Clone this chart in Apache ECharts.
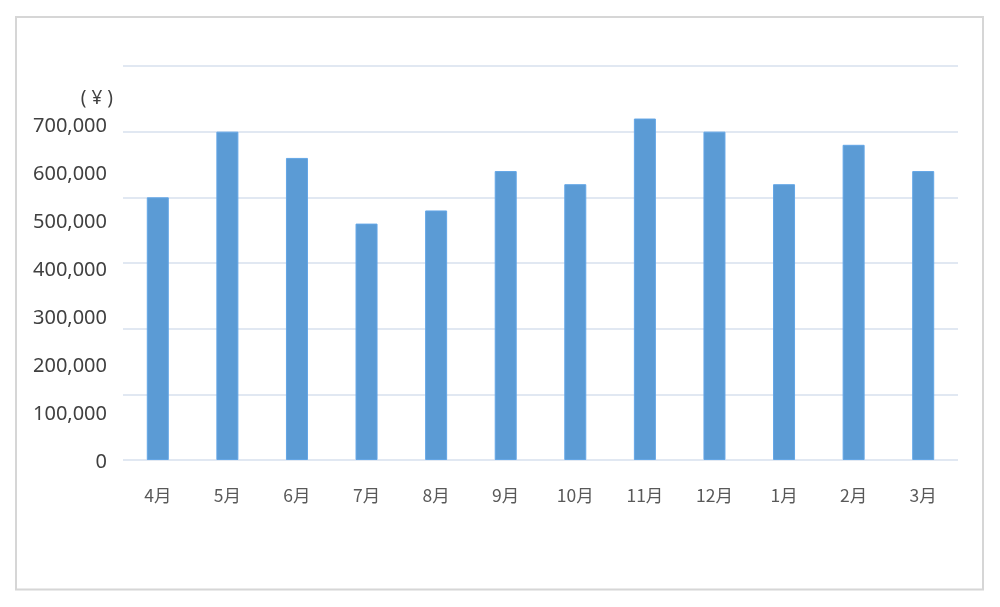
<!DOCTYPE html>
<html>
<head>
<meta charset="utf-8">
<script src="https://cdn.jsdelivr.net/npm/echarts@6/dist/echarts.min.js"></script>
<style>
html,body{margin:0;padding:0;background:#fff;}
#chart{width:1000px;height:607px;}
</style>
</head>
<body>
<div id="chart"></div>
<script>
// Data
var months = ['4月','5月','6月','7月','8月','9月','10月','11月','12月','1月','2月','3月'];
var sales = [400000, 500000, 460000, 360000, 380000, 440000, 420000, 520000, 500000, 420000, 480000, 440000];
// Tick labels as shown (manually placed labels in the reference)
var tickLabels = ['0','100,000','200,000','300,000','400,000','500,000','600,000','700,000'];
var unitLabel = '( ¥ )';

var chart = echarts.init(document.getElementById('chart'), null, {renderer:'canvas'});
var option = {
  backgroundColor: '#ffffff',
  animation: false,
  graphic: [{
    type: 'rect',
    shape: {x: 16, y: 17, width: 967, height: 572.5},
    style: {fill: 'none', stroke: '#d6d6d6', lineWidth: 2},
    silent: true
  }],
  grid: [
    {left: 123, right: 42, top: 66, bottom: 147},
    {left: 123, right: 42, top: 126.7, bottom: 144.3}
  ],
  xAxis: [
    {
      type: 'category', gridIndex: 0, data: months,
      axisLine: {show: false}, axisTick: {show: false},
      axisLabel: {margin: 27, fontSize: 17.5, color: '#595959', fontFamily: '"Noto Sans CJK JP", "Noto Sans", sans-serif'}
    },
    {type: 'value', gridIndex: 1, show: false}
  ],
  yAxis: [
    {
      type: 'value', gridIndex: 0, min: 0, max: 600000, interval: 100000,
      axisLine: {show: false}, axisTick: {show: false}, axisLabel: {show: false},
      splitLine: {lineStyle: {color: '#d7e0ee', width: 1.5}}
    },
    {
      type: 'value', gridIndex: 1, min: 0, max: 700000, interval: 100000,
      axisLine: {show: false}, axisTick: {show: false}, splitLine: {show: false},
      name: unitLabel, nameLocation: 'end', nameGap: 28,
      nameTextStyle: {align: 'right', verticalAlign: 'middle', padding: [0, 10, 0, 0], fontSize: 19, color: '#404040', fontFamily: '"Noto Sans", sans-serif'},
      axisLabel: {
        margin: 16, fontSize: 20, color: '#404040', fontFamily: '"Noto Sans", sans-serif',
        formatter: function (v) { return tickLabels[Math.round(v / 100000)] || ''; }
      }
    }
  ],
  series: [{
    type: 'bar', xAxisIndex: 0, yAxisIndex: 0, data: sales,
    barWidth: 22,
    itemStyle: {color: '#5b9bd5', borderColor: '#63a6e6', borderWidth: 1}
  }]
};
chart.setOption(option);
</script>
</body>
</html>
